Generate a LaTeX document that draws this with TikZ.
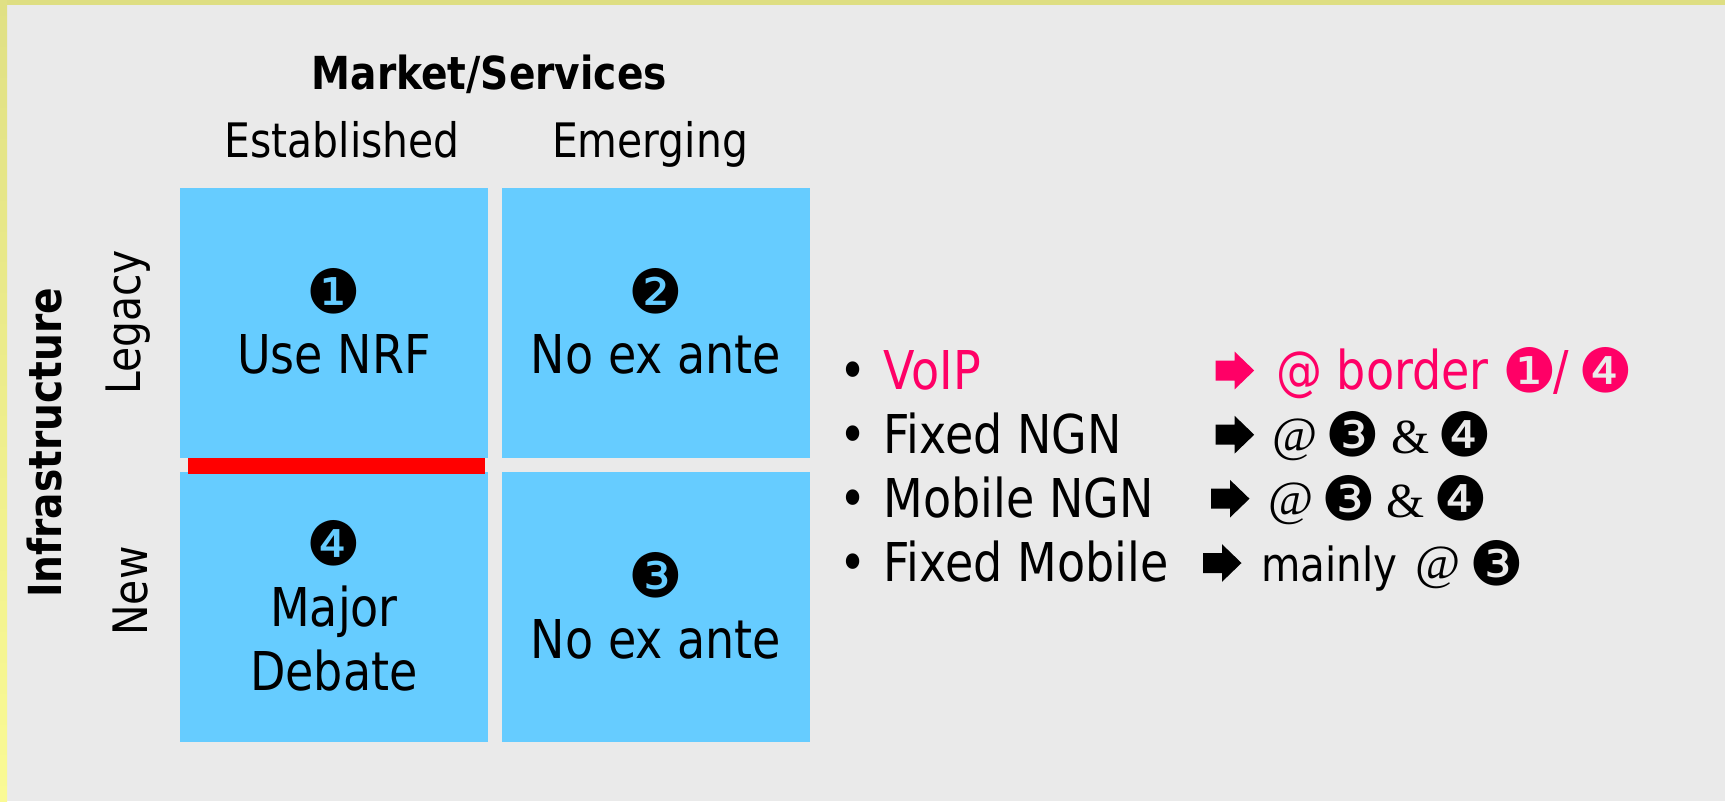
\documentclass[tikz,border=0pt]{standalone}
\usepackage{fontspec}
\setmainfont{DejaVu Sans}[FakeStretch=0.86]
\newfontfamily\numfont{DejaVu Sans}
\newfontfamily\serfont{Liberation Serif}
\definecolor{bgcol}{HTML}{EAEAEA}
\definecolor{topband}{HTML}{DEDE82}
\definecolor{leftA}{HTML}{E0E084}
\definecolor{leftB}{HTML}{FAFA94}
\definecolor{cellblue}{HTML}{66CCFF}
\definecolor{vpink}{HTML}{FF0066}
\tikzset{
  lbl/.style={inner sep=0pt, anchor=base},
  wlbl/.style={inner sep=0pt, anchor=base west},
  big/.style={font=\fontsize{53.5}{60}\selectfont},
  mid/.style={font=\fontsize{47}{54}\selectfont},
  head/.style={font=\fontsize{47.5}{54}\selectfont},
  ttl/.style={font=\fontsize{45.5}{52}\selectfont\bfseries},
  num/.style={font=\numfont\fontsize{61}{66}\selectfont, inner sep=0pt},
  ser/.style={font=\serfont\fontsize{49}{54}\selectfont, inner sep=0pt, anchor=base west},
  cell/.style={fill=cellblue, draw=none, inner sep=0pt, minimum width=308pt, minimum height=269.5pt},
  blockarrow/.pic={\fill (0,-10) -- (19,-10) -- (19,-18.8) -- (38.5,0) -- (19,18.8) -- (19,10) -- (0,10) -- cycle;},
}
\begin{document}
\begin{tikzpicture}[x=1pt,y=-1pt]
\useasboundingbox (0,0) rectangle (1725,801);
\fill[bgcol] (0,0) rectangle (1725,801);
\fill[topband] (0,0) rectangle (1725,5);
\shade[top color=leftA, bottom color=leftB] (0,0) rectangle (7,801);

% cells
\node[cell] (c1) at (334,322.75) {};
\node[cell] (c2) at (656,322.75) {};
\node[cell] (c4) at (334,607) {};
\node[cell] (c3) at (656,607) {};
\node[fill=red, draw=none, inner sep=0pt, minimum width=297.5pt, minimum height=16pt] (bar) at (336.25,466) {};

% headings
\node[ttl,lbl] (mkt) at (489.3,89.3) {Market/Services};
\node[head,lbl] (est) at (342.2,157.7) {Established};
\node[head,lbl] (emg) at (650.1,157.7) {Emerging};
\node[ttl,lbl,rotate=90] (inf) at (61.7,443) {Infrastructure};
\node[head,lbl,rotate=90] (leg) at (140.5,322.5) {Legacy};
\node[head,lbl,rotate=90] (new) at (147.3,591) {New};

% cell texts
\node[num] (n1) at (334,291.7) {❶};
\node[big,lbl] (t1) at (334,373.3) {Use NRF};
\node[num] (n2) at (656,291.7) {❷};
\node[big,lbl] (t2) at (656,373.3) {No ex ante};
\node[num] (n4) at (334,543.3) {❹};
\node[big,lbl] (t4a) at (334,626.7) {Major};
\node[big,lbl] (t4b) at (334,690) {Debate};
\node[num] (n3) at (656,575) {❸};
\node[big,lbl] (t3) at (656,658) {No ex ante};

% bullet rows
\node[big,lbl] (b1) at (853,389) {•};
\node[big,wlbl,text=vpink] (r1a) at (883.5,389) {VoIP};
\pic[color=vpink] (r1r) at (1215.7,370.5) {blockarrow};
\node[big,wlbl,text=vpink] (r1b) at (1276,389) {@ border};
\node[num,text=vpink] (r1n1) at (1530,370.5) {❶};
\node[big,wlbl,text=vpink] (r1s) at (1553,389) {/};
\node[num,text=vpink] (r1n4) at (1606,370.5) {❹};

\node[big,lbl] (b2) at (853,453.3) {•};
\node[big,wlbl] (r2a) at (883.5,453.3) {Fixed NGN};
\pic[color=black] (r2r) at (1215.7,434.7) {blockarrow};
\node[ser] (r2at) at (1272,451.5) {@};
\node[num] (r2n3) at (1352.5,434.5) {❸};
\node[ser] (r2amp) at (1391,453.3) {\&};
\node[num] (r2n4) at (1465,434.5) {❹};

\node[big,lbl] (b3) at (853,517.3) {•};
\node[big,wlbl] (r3a) at (883.5,517.3) {Mobile NGN};
\pic[color=black] (r3r) at (1211,498.7) {blockarrow};
\node[ser] (r3at) at (1268,515.5) {@};
\node[num] (r3n3) at (1348.5,498.5) {❸};
\node[ser] (r3amp) at (1386,517.3) {\&};
\node[num] (r3n4) at (1461,498.5) {❹};

\node[big,lbl] (b4) at (853,581.7) {•};
\node[big,wlbl] (r4a) at (883.5,581.7) {Fixed Mobile};
\pic[color=black] (r4r) at (1203,563) {blockarrow};
\node[mid,wlbl] (r4m) at (1261,581.7) {mainly};
\node[ser] (r4at) at (1415,579.9) {@};
\node[num] (r4n3) at (1496.5,562.9) {❸};
\end{tikzpicture}
\end{document}
